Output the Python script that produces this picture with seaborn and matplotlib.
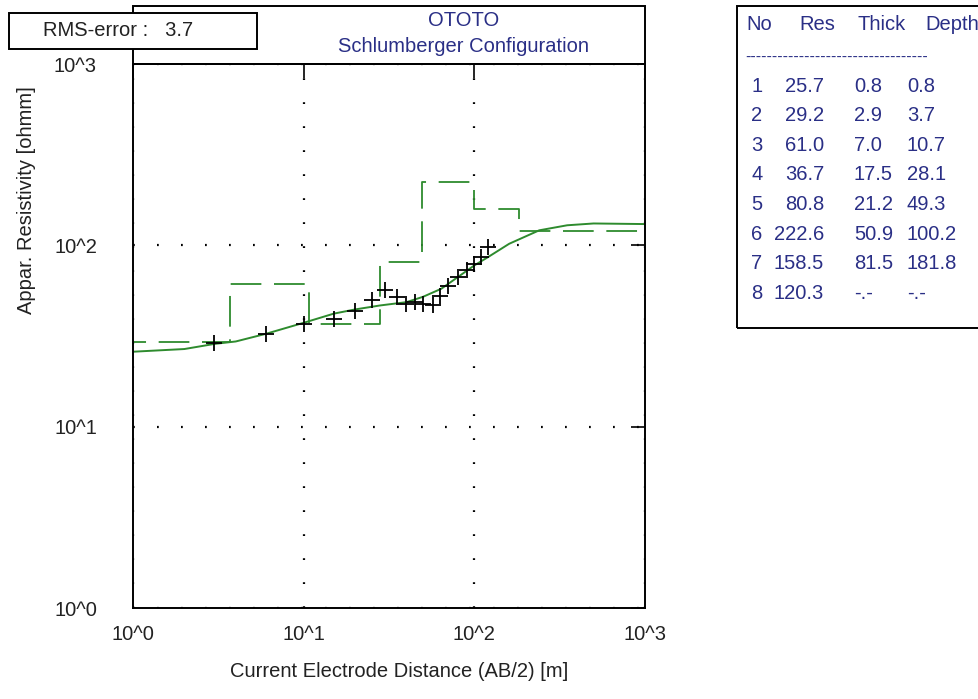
import numpy as np
import pandas as pd
import matplotlib
matplotlib.use("Agg")
import matplotlib.pyplot as plt
import seaborn as sns
from matplotlib.patches import Rectangle
from matplotlib.ticker import LogLocator, NullFormatter

# ------------------------------------------------------
# data
# ------------------------------------------------------
# field measurements (AB/2 in m, apparent resistivity in ohmm)
ab2_obs = [3, 6, 10, 15, 20, 25, 30, 35, 40, 45, 50, 57, 63, 70, 80, 90, 100, 110, 120]
rho_obs = [28.9, 32.5, 36.9, 39.3, 43.7, 49.7, 56.4, 51.8, 47.6, 48.6, 47.2, 46.6,
           52.5, 59.3, 66.8, 72.7, 79.2, 86.1, 97.9]

# calculated model curve
ab2_calc = [1, 2, 3, 4, 6, 10, 15, 20, 28, 40, 50, 64, 80, 100, 120, 160, 240, 350, 500, 1000]
rho_calc = [25.9, 26.8, 28.6, 29.5, 32.5, 37.4, 42.0, 44.3, 46.6, 48.6, 52.0, 57.6,
            66.8, 77.5, 86.0, 102.0, 121.0, 129.0, 132.0, 131.0]

# layer model (table on the right)
layer_no = [1, 2, 3, 4, 5, 6, 7, 8]
layer_res = [25.7, 29.2, 61.0, 36.7, 80.8, 222.6, 158.5, 120.3]
layer_thick = [0.8, 2.9, 7.0, 17.5, 21.2, 50.9, 81.5]
layer_depth = [0.8, 3.7, 10.7, 28.1, 49.3, 100.2, 181.8]

tick_labels = ["10^0", "10^1", "10^2", "10^3"]
tick_values = [1, 10, 100, 1000]

title = "OTOTO"
subtitle = "Schlumberger Configuration"
rms_error = 3.7

# ------------------------------------------------------
# style
# ------------------------------------------------------
sns.set_style("white")
plt.rcParams["font.family"] = ["Liberation Sans", "DejaVu Sans"]
fs = 14.5
green = "#2e8b2e"
navy = "#2a2f86"

W, H = 979, 699
fig = plt.figure(figsize=(W / 100, H / 100), dpi=100)
fig.patch.set_facecolor("white")

# plot area in pixels
x0, x1, y0, y1 = 133, 645, 64, 608
ax = fig.add_axes([x0 / W, 1 - y1 / H, (x1 - x0) / W, (y1 - y0) / H])

# ------------------------------------------------------
# curves
# ------------------------------------------------------
calc = pd.DataFrame({"ab2": ab2_calc, "rho": rho_calc})
sns.lineplot(data=calc, x="ab2", y="rho", ax=ax, color=green, lw=1.4)

step_x = [0.5] + layer_depth + [1000]
step_y = layer_res + [layer_res[-1]]
model = pd.DataFrame({"depth": step_x, "res": step_y})
sns.lineplot(data=model, x="depth", y="res", ax=ax, color=green, lw=1.3,
             drawstyle="steps-post", linestyle=(0, (17, 7)))

obs = pd.DataFrame({"ab2": ab2_obs, "rho": rho_obs})
sns.scatterplot(data=obs, x="ab2", y="rho", ax=ax, marker="+", s=140,
                color="black", linewidth=1.3, zorder=5)

# ------------------------------------------------------
# axes
# ------------------------------------------------------
ax.set_xscale("log")
ax.set_yscale("log")
ax.set_xlim(1, 1000)
ax.set_ylim(1, 1000)
ax.set_xticks(tick_values)
ax.set_xticklabels(tick_labels)
ax.set_yticks(tick_values)
ax.set_yticklabels(tick_labels)
ax.xaxis.set_minor_locator(LogLocator(base=10, subs=np.arange(2, 10)))
ax.yaxis.set_minor_locator(LogLocator(base=10, subs=np.arange(2, 10)))
ax.xaxis.set_minor_formatter(NullFormatter())
ax.yaxis.set_minor_formatter(NullFormatter())

ax.tick_params(which="both", direction="in", top=True, right=True,
               color="black", width=1.2, labelsize=fs, labelcolor="#222222")
ax.tick_params(which="major", length=10)
ax.tick_params(which="minor", length=5, top=False, right=False)
ax.tick_params(axis="x", pad=12)
ax.tick_params(axis="y", pad=26)

ax.grid(True, which="major", color="black", linestyle=(0, (0.8, 10)), lw=1.6)
for sp in ax.spines.values():
    sp.set_color("black")
    sp.set_linewidth(1.4)

ax.set_xlabel("Current Electrode Distance (AB/2) [m]", fontsize=fs, color="#222222")
ax.set_ylabel("Appar. Resistivity [ohmm]", fontsize=fs, color="#222222")
ax.xaxis.set_label_coords(0.52, (y1 - 662) / (y1 - y0))
ax.yaxis.set_label_coords((27 - x0) / (x1 - x0), 0.75)
ax.yaxis.label.set_va("center")

# ------------------------------------------------------
# header box, rms box, layer table
# ------------------------------------------------------
def fx(px):
    return px / W


def fy(py):
    return 1 - py / H


fig.add_artist(Rectangle((fx(x0), fy(y0)), (x1 - x0) / W, (y0 - 6) / H,
                         transform=fig.transFigure, fill=False, ec="black", lw=1.4))
fig.text(fx(464), fy(21), title, ha="center", va="center", fontsize=fs, color=navy)
fig.text(fx(464), fy(46), subtitle, ha="center", va="center", fontsize=fs, color=navy)

fig.add_artist(Rectangle((fx(9), fy(49)), 248 / W, 36 / H, transform=fig.transFigure,
                         fc="white", ec="black", lw=1.4, zorder=5))
fig.text(fx(43), fy(31), f"RMS-error :   {rms_error}", ha="left", va="center",
         fontsize=fs, color="#222222", zorder=6)

fig.add_artist(Rectangle((fx(737), fy(328)), 260 / W, 322 / H, transform=fig.transFigure,
                         fill=False, ec="black", lw=1.4))
hy = 24
fig.text(fx(746), fy(hy), "No", va="center", fontsize=fs, color=navy)
fig.text(fx(799), fy(hy), "Res", va="center", fontsize=fs, color=navy)
fig.text(fx(858), fy(hy), "Thick", va="center", fontsize=fs, color=navy)
fig.text(fx(925), fy(hy), "Depth", va="center", fontsize=fs, color=navy)
fig.text(fx(745), fy(57), "-" * 34, va="center", fontsize=fs * 0.8, color=navy)

row0, dy = 86, 29.6
for i, no in enumerate(layer_no):
    yy = fy(row0 + i * dy)
    fig.text(fx(757), yy, str(no), ha="center", va="center", fontsize=fs, color=navy)
    fig.text(fx(824), yy, f"{layer_res[i]:.1f}", ha="right", va="center", fontsize=fs, color=navy)
    if i < len(layer_thick):
        th, dp = f"{layer_thick[i]:.1f}", f"{layer_depth[i]:.1f}"
    else:
        th, dp = "-.-", "-.-"
    fig.text(fx(854), yy, th, ha="left", va="center", fontsize=fs, color=navy)
    fig.text(fx(907), yy, dp, ha="left", va="center", fontsize=fs, color=navy)

fig.savefig("out.png", dpi=100, facecolor="white")
